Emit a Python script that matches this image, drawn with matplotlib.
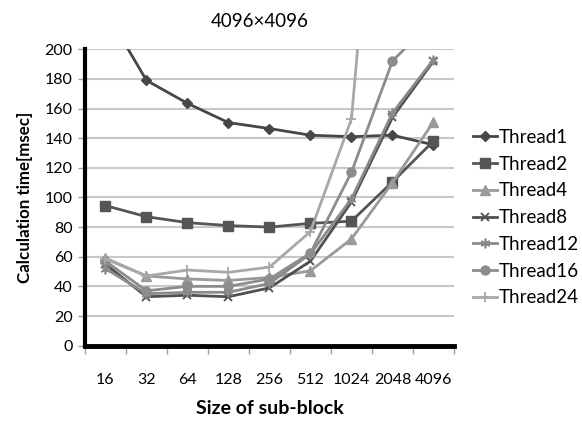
import matplotlib
matplotlib.use("Agg")
import matplotlib.pyplot as plt
import numpy as np

plt.rcParams['font.family'] = ['Lato', 'DejaVu Sans']

sizes = ["16", "32", "64", "128", "256", "512", "1024", "2048", "4096"]
thread1 = [226, 179, 163.5, 150.5, 146.5, 142, 141, 142, 135.5]
thread2 = [94.5, 87, 83, 81, 80, 82.5, 84, 110.5, 138]
thread4 = [59, 47, 45, 44, 46, 50.5, 72, 110, 151]
thread8 = [55, 33, 34, 33, 39, 57, 97, 154, 192]
thread12 = [52, 35, 36, 36, 42, 62, 99, 157, 193]
thread16 = [57, 37, 40, 40, 45, 62.5, 117, 192, 220]
thread24 = [58.5, 47, 51, 49.5, 53, 77, 153, 470, 800]

series = [
    ("Thread1", thread1, "#474747", "D", 5.0, None),
    ("Thread2", thread2, "#555555", "s", 6.5, None),
    ("Thread4", thread4, "#9a9a9a", "^", 6.5, None),
    ("Thread8", thread8, "#505050", "x", 6.0, 1.3),
    ("Thread12", thread12, "#8a8a8a", (6, 2, 0), 7.0, 1.2),
    ("Thread16", thread16, "#8c8c8c", "o", 6.5, None),
    ("Thread24", thread24, "#a8a8a8", "+", 7.0, 1.3),
]

fig = plt.figure(figsize=(5.82, 4.21), dpi=100)
ax = fig.add_axes([0.146, 0.179, 0.634, 0.704])

x = np.arange(len(sizes))
for name, vals, col, mk, ms, mew in series:
    kw = {}
    if mew is not None:
        kw['markeredgewidth'] = mew
    ax.plot(x, vals, color=col, marker=mk, markersize=ms, linewidth=2.0,
            markerfacecolor=col, markeredgecolor=col, label=name, clip_on=True, **kw)

ax.set_xlim(-0.5, len(sizes) - 0.5)
ax.set_ylim(0, 200)
ax.set_yticks(np.arange(0, 201, 20))
ax.yaxis.grid(True, color="#c8c8c8", linewidth=1.5)
ax.set_axisbelow(True)

ax.set_xticks(x)
ax.set_xticklabels(sizes)
ax.set_xticks(np.arange(-0.5, len(sizes), 1), minor=True)
ax.tick_params(axis='x', which='major', length=0, pad=20, labelsize=11.5)
ax.tick_params(axis='x', which='minor', length=6, color="#a0a0a0", width=1)
ax.tick_params(axis='y', which='major', length=5, color="#a0a0a0", width=1, labelsize=11.5, pad=4)

for s in ['top', 'right']:
    ax.spines[s].set_visible(False)
ax.spines['left'].set_linewidth(3)
ax.spines['bottom'].set_linewidth(3.5)
ax.spines['left'].set_color('black')
ax.spines['bottom'].set_color('black')

ax.set_ylabel("Calculation time[msec]", fontsize=12.2, fontweight='bold', labelpad=8)
ax.set_xlabel("Size of sub-block", fontsize=14, fontweight='bold', labelpad=9)
fig.text(0.447, 0.950, "4096×4096", ha='center', va='center', fontsize=13.5)

leg = ax.legend(loc='center left', bbox_to_anchor=(1.0, 0.432), frameon=False,
                fontsize=13.5, handlelength=1.3, handletextpad=0.1,
                labelspacing=0.52, borderaxespad=0.6)

fig.savefig("out.png", dpi=100)
